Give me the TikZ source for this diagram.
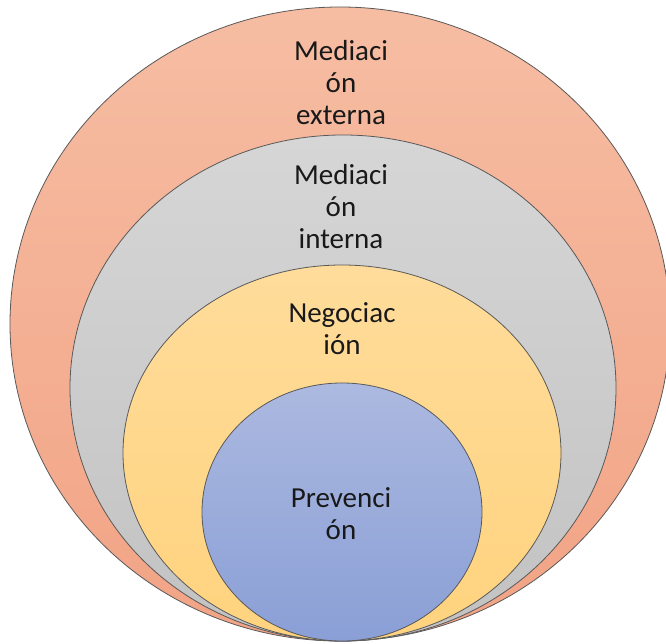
\documentclass[tikz,border=0pt]{standalone}
\usepackage{fontspec}
\setmainfont{Carlito}
\begin{document}
\begin{tikzpicture}[x=1pt,y=1pt,
  ring/.style={draw=black!65, line width=0.8pt},
  label/.style={align=center, anchor=base, inner sep=0pt, text=black!90,
    font=\fontsize{29}{32}\selectfont}]
\definecolor{extTop}{HTML}{F6BDA3}
\definecolor{extBot}{HTML}{F2A385}
\definecolor{intTop}{HTML}{D6D6D6}
\definecolor{intBot}{HTML}{C2C2C2}
\definecolor{negTop}{HTML}{FFDC9B}
\definecolor{negBot}{HTML}{FFD37E}
\definecolor{preTop}{HTML}{ACB9E0}
\definecolor{preBot}{HTML}{8A9FD6}
\useasboundingbox (0,0) rectangle (666,643);
\clip (0,0) rectangle (666,643);
% nested rings, all touching at the bottom
\path[ring, top color=extTop, bottom color=extBot] (340,319) ellipse [x radius=330, y radius=317];
\path[ring, top color=intTop, bottom color=intBot] (343,255) ellipse [x radius=273, y radius=253];
\path[ring, top color=negTop, bottom color=negBot] (342,190) ellipse [x radius=219, y radius=188];
\path[ring, top color=preTop, bottom color=preBot] (342,131) ellipse [x radius=140, y radius=129];
% labels (anchored at the baseline of their last line)
\node[label] (ext) at (341,518) {Mediaci\\ón\\externa};
\node[label] (int) at (341,394) {Mediaci\\ón\\interna};
\node[label] (neg) at (342,288) {Negociac\\ión};
\node[label] (pre) at (341,104) {Prevenci\\ón};
\end{tikzpicture}
\end{document}
